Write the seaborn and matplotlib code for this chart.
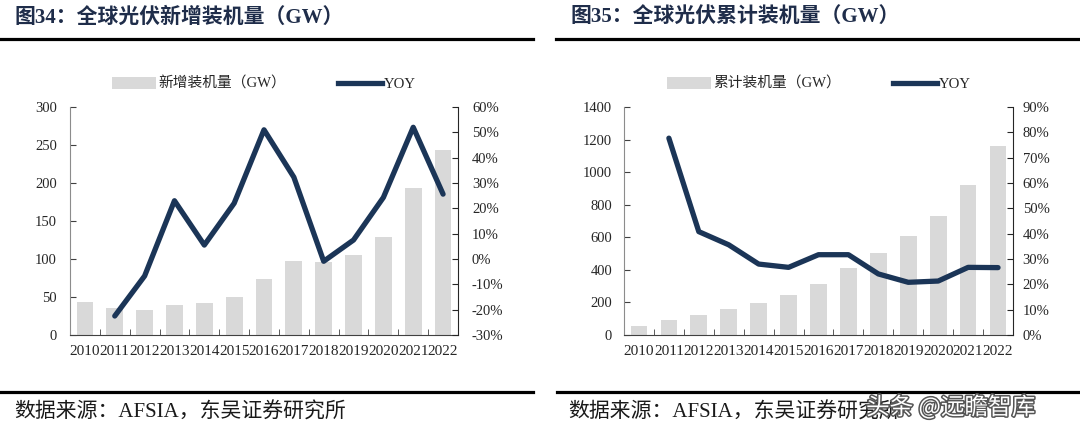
import numpy as np
import pandas as pd
import seaborn as sns
import matplotlib
matplotlib.use('Agg')
import matplotlib.pyplot as plt
from matplotlib.patches import Patch
from matplotlib.lines import Line2D
from matplotlib.ticker import FuncFormatter, MultipleLocator, FixedLocator
import matplotlib.patheffects as pe

########################################################################
# Data

years = ['2010', '2011', '2012', '2013', '2014', '2015', '2016',
         '2017', '2018', '2019', '2020', '2021', '2022']

# fig 34: new installations (GW) and yoy (%)
new_gw = [44, 35, 33, 40, 42, 50.5, 74, 97.5, 96, 105, 129, 194, 243]
new_yoy = [np.nan, -22.5, -6.7, 23.0, 5.5, 22.0, 51.0, 32.3, -0.9, 7.5, 24.3, 52.0, 25.6]

# fig 35: cumulative installations (GW) and yoy (%)
cum_gw = [55, 92, 123, 158, 197, 246, 316, 410, 504, 607, 730, 920, 1160]
cum_yoy = [np.nan, 77.7, 40.8, 35.6, 28.0, 26.7, 31.7, 31.7, 24.1, 20.8, 21.3, 26.7, 26.6]

title_left = '图34：全球光伏新增装机量（GW）'
title_right = '图35：全球光伏累计装机量（GW）'
legend_left = '新增装机量（GW）'
legend_right = '累计装机量（GW）'
source_text = '数据来源：AFSIA，东吴证券研究所'

########################################################################

BAR_COLOR = '#D9D9D9'
LINE_COLOR = '#1B3557'
TITLE_COLOR = '#1F2D4A'
TEXT_COLOR = '#262626'

plt.rcParams['font.family'] = ['Liberation Serif', 'Noto Sans CJK SC']
plt.rcParams['axes.unicode_minus'] = False

W, H = 1080, 432
fig = plt.figure(figsize=(W / 100, H / 100), dpi=100)


def fx(px):
    return px / W


def fy(py):
    return 1 - py / H


def pct(v, pos):
    return f'{v:.0f}%'


def draw_panel(x0, x1, values, yoy, ymax, ystep, pmin, pmax, pstep, lpad, rpad):
    df = pd.DataFrame({'year': years, 'gw': values, 'yoy': yoy,
                       'pos': np.arange(len(years))})
    ax = fig.add_axes([fx(x0), fy(335), fx(x1 - x0), (335 - 107) / H])
    sns.barplot(data=df, x='year', y='gw', color=BAR_COLOR, saturation=1,
                width=0.56, errorbar=None, linewidth=0, ax=ax)
    ax2 = ax.twinx()
    sns.lineplot(data=df, x='pos', y='yoy', color=LINE_COLOR, lw=3.8,
                 ax=ax2, legend=False)
    ax2.lines[0].set_solid_capstyle('round')
    ax.set_xlim(-0.5, len(years) - 0.5)
    ax.set_ylim(0, ymax)
    ax2.set_ylim(pmin, pmax)
    ax.yaxis.set_major_locator(MultipleLocator(ystep))
    ax2.yaxis.set_major_locator(MultipleLocator(pstep))
    ax2.yaxis.set_major_formatter(FuncFormatter(pct))
    for a in (ax, ax2):
        a.set_xlabel('')
        a.set_ylabel('')
        a.spines['top'].set_visible(False)
    ax.spines['right'].set_visible(False)
    ax2.spines['left'].set_visible(False)
    ax2.spines['bottom'].set_visible(False)
    ax.spines['left'].set_color('#8C8C8C')
    ax.spines['bottom'].set_color('#404040')
    ax2.spines['right'].set_color('#262626')
    # x ticks: labels at categories, small inward ticks between bars
    ax.xaxis.set_minor_locator(FixedLocator(np.arange(0.5, len(years) - 1, 1)))
    ax.tick_params(axis='x', which='major', length=0, pad=7,
                   labelsize=11, labelcolor=TEXT_COLOR)
    ax.tick_params(axis='x', which='minor', direction='in', length=4,
                   color='#404040')
    ax.tick_params(axis='y', direction='in', length=4, color='#404040',
                   pad=lpad, labelsize=10.5, labelcolor=TEXT_COLOR)
    ax2.tick_params(axis='y', direction='in', length=4, color='#262626',
                    pad=rpad, labelsize=10.5, labelcolor=TEXT_COLOR)
    return ax, ax2


ax_l, ax_l2 = draw_panel(70, 458, new_gw, new_yoy, 300, 50, -30, 60, 10, 9.5, 10)
ax_r, ax_r2 = draw_panel(624, 1013, cum_gw, cum_yoy, 1400, 200, 0, 90, 10, 8.5, 7)

# legends above the plots
for xstart, label in [(112, legend_left), (667, legend_right)]:
    handles = [Patch(facecolor=BAR_COLOR, edgecolor='none', label=label),
               Line2D([0], [0], color=LINE_COLOR, lw=3.8, label='YOY')]
    fig.legend(handles=handles, loc='center left', ncol=2,
               bbox_to_anchor=(fx(xstart), fy(84)), frameon=False,
               fontsize=10.6, handlelength=3.0, handleheight=0.8,
               handletextpad=0.15, columnspacing=3.5, borderpad=0,
               borderaxespad=0, labelcolor=TEXT_COLOR)

# titles and rules
fig.text(fx(14), fy(18), title_left, fontsize=15, fontweight='bold',
         color=TITLE_COLOR, va='center', ha='left')
fig.text(fx(570), fy(18), title_right, fontsize=15, fontweight='bold',
         color=TITLE_COLOR, va='center', ha='left')
fig.add_artist(Line2D([0, fx(533)], [fy(38.5)] * 2, color='black', lw=2.3))
fig.add_artist(Line2D([fx(556), 1], [fy(38.5)] * 2, color='black', lw=2.3))
fig.add_artist(Line2D([0, fx(533)], [fy(392)] * 2, color='black', lw=2.3))
fig.add_artist(Line2D([fx(557), 1], [fy(392)] * 2, color='black', lw=2.3))

# source notes
fig.text(fx(14), fy(413), source_text, fontsize=15, color='#1A1A1A',
         va='center', ha='left')
fig.text(fx(568), fy(413), source_text, fontsize=15, color='#1A1A1A',
         va='center', ha='left')

# watermark
fig.text(fx(866), fy(407), '头条 @远瞻智库', fontsize=17, color='white',
         family=['Noto Sans CJK SC', 'DejaVu Sans'], va='center', ha='left',
         path_effects=[pe.withStroke(linewidth=2.2, foreground='#555555')])

plt.savefig('out.png', dpi=100)
plt.close(fig)
